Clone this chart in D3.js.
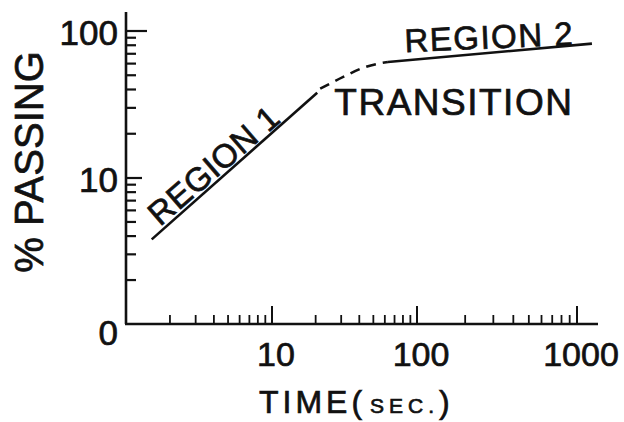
<!DOCTYPE html>
<html>
<head>
<meta charset="utf-8">
<script src="https://cdn.jsdelivr.net/npm/d3@7"></script>
<style>
  body { margin: 0; background: #fff; }
  svg text { font-family: "Liberation Sans", Arial, sans-serif; fill: #111; stroke: #111; stroke-width: 0.7px; }
</style>
</head>
<body>
<div id="canvas"></div>
<script>
// values (time in sec, % passing)
var region1 = [[1.5, 3.8], [20.5, 38]];
var transition = [[21.5, 40.5], [31, 48.7], [42, 56], [63, 61.6]];
var region2 = [[63, 61.6], [1240, 82]];

var xTickVals = [10, 100, 1000],
    xTickLabels = ['10', '100', '1000'];
var yTickVals = [1, 10, 100],
    yTickLabels = ['0', '10', '100'];

// annotation anchors in data units
var notes = [
  {text: 'REGION 1', x: 4.48, y: 10.65, rot: -41, size: 33, ls: 0.5},
  {text: 'REGION 2', x: 285, y: 76, rot: -2.5, size: 33, ls: 1.5},
  {text: 'TRANSITION', x: 170, y: 26.8, rot: 0, size: 37, ls: 1.5}
];

var W = 624, H = 422;

var svg = d3.select('#canvas').append('svg')
    .attr('width', W)
    .attr('height', H);

// hand drawn log grid: decades are not quite equal, so piecewise log scales
var x = d3.scaleLog().domain([1, 10, 100, 1000, 1353]).range([126, 272, 417, 577, 598]);
var y = d3.scaleLog().domain([1, 10, 100, 135]).range([324, 178, 31, 12]);

var x0 = x(1), y0 = y(1);

// axes lines
svg.append('line')
    .attr('x1', x0).attr('x2', x0)
    .attr('y1', y(135)).attr('y2', y0)
    .style('stroke', '#111').style('stroke-width', 2.6);
svg.append('line')
    .attr('x1', x0 - 1).attr('x2', x(1353))
    .attr('y1', y0).attr('y2', y0)
    .style('stroke', '#111').style('stroke-width', 2.6);

// x ticks (pointing up, inside)
var xMinor = x.ticks().filter(function(d){ return d > 1 && d < 1353 && xTickVals.indexOf(d) < 0; });
svg.selectAll('.xminor').data(xMinor).enter()
    .append('line').attr('class', 'xminor')
    .attr('x1', function(d){ return x(d); }).attr('x2', function(d){ return x(d); })
    .attr('y1', y0).attr('y2', y0 - 9)
    .style('stroke', '#111').style('stroke-width', 1.8);
svg.selectAll('.xmajor').data(xTickVals).enter()
    .append('line').attr('class', 'xmajor')
    .attr('x1', function(d){ return x(d); }).attr('x2', function(d){ return x(d); })
    .attr('y1', y0).attr('y2', y0 - 18)
    .style('stroke', '#111').style('stroke-width', 2);
svg.selectAll('.xlab').data(xTickVals).enter()
    .append('text').attr('class', 'xlab')
    .attr('x', function(d){ return x(d) + 4; })
    .attr('y', 366)
    .attr('text-anchor', 'middle')
    .style('font-size', '34px')
    .text(function(d, i){ return xTickLabels[i]; });

// y ticks (pointing right, inside)
var yMinor = y.ticks().filter(function(d){ return d > 1 && yTickVals.indexOf(d) < 0; });
svg.selectAll('.yminor').data(yMinor).enter()
    .append('line').attr('class', 'yminor')
    .attr('x1', x0).attr('x2', x0 + 10)
    .attr('y1', function(d){ return y(d); }).attr('y2', function(d){ return y(d); })
    .style('stroke', '#111').style('stroke-width', 2.2);
svg.selectAll('.ymajor').data(yTickVals.filter(function(d){ return d > 1; })).enter()
    .append('line').attr('class', 'ymajor')
    .attr('x1', x0).attr('x2', function(d){ return d === 100 ? x0 + 21 : x0 + 16; })
    .attr('y1', function(d){ return y(d); }).attr('y2', function(d){ return y(d); })
    .style('stroke', '#111').style('stroke-width', 2.2);
svg.selectAll('.ylab').data(yTickVals).enter()
    .append('text').attr('class', 'ylab')
    .attr('x', 118)
    .attr('y', function(d){ return y(d) + (d === 1 ? 8 : 1); })
    .attr('dy', '0.36em')
    .attr('text-anchor', 'end')
    .style('font-size', '35px')
    .text(function(d, i){ return yTickLabels[i]; });

// curves
var line = d3.line()
    .x(function(d){ return x(d[0]); })
    .y(function(d){ return y(d[1]); });

svg.append('path').datum(region1)
    .attr('d', line)
    .style('fill', 'none').style('stroke', '#111').style('stroke-width', 2.6);
svg.append('path').datum(transition)
    .attr('d', line.curve(d3.curveMonotoneX))
    .style('fill', 'none').style('stroke', '#111').style('stroke-width', 2.6)
    .style('stroke-dasharray', '10,7');
svg.append('path').datum(region2)
    .attr('d', line.curve(d3.curveLinear))
    .style('fill', 'none').style('stroke', '#111').style('stroke-width', 2.6);

// annotations
svg.selectAll('.note').data(notes).enter()
    .append('text').attr('class', 'note')
    .attr('transform', function(d){ return 'translate(' + x(d.x) + ',' + y(d.y) + ') rotate(' + d.rot + ')'; })
    .attr('text-anchor', 'middle')
    .style('font-size', function(d){ return d.size + 'px'; })
    .style('letter-spacing', function(d){ return d.ls + 'px'; })
    .text(function(d){ return d.text; });

// axis titles
var xt = svg.append('text').attr('x', 259).attr('y', 413);
xt.append('tspan').style('font-size', '32px').style('letter-spacing', '4px').text('TIME');
xt.append('tspan').style('font-size', '32px').attr('dx', 0).text('(');
xt.append('tspan').style('font-size', '21px').style('letter-spacing', '5px').attr('dx', 8).text('SEC.');
xt.append('tspan').style('font-size', '32px').attr('dx', 0).text(')');

svg.append('text')
    .attr('transform', 'translate(43,162) rotate(-90)')
    .attr('text-anchor', 'middle')
    .style('font-size', '40px')
    .text('% PASSING');
</script>
</body>
</html>
